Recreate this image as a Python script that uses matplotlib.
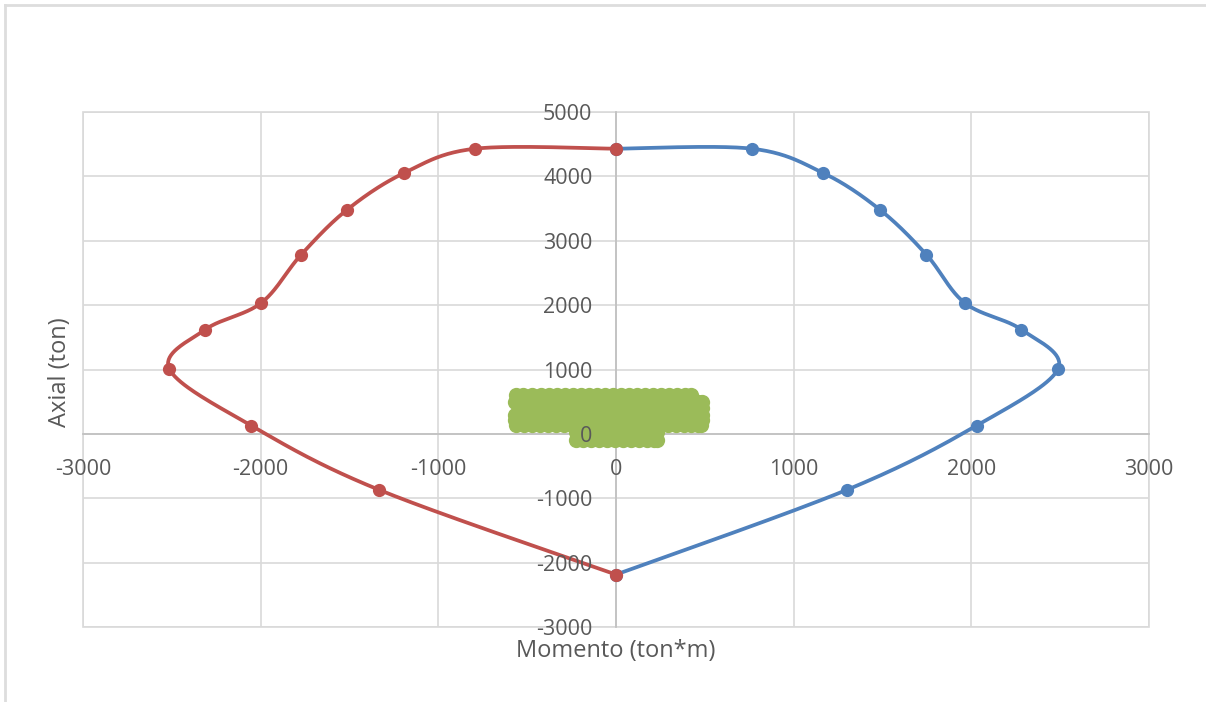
import numpy as np
import matplotlib
matplotlib.use("Agg")
import matplotlib.pyplot as plt
from matplotlib.lines import Line2D
from matplotlib.patches import Rectangle

# ---- data ----
blue_M = [0, 765, 1166, 1485, 1747, 1963, 2282, 2488, 2030, 1299, 0]
blue_P = [4430, 4430, 4053, 3483, 2784, 2034, 1620, 1009, 129, -870, -2185]
red_M = [0, -793, -1192, -1513, -1772, -1997, -2312, -2514, -2053, -1333, 0]
red_P = [4430, 4430, 4053, 3483, 2784, 2034, 1620, 1009, 129, -870, -2185]

green_row_P = [600, 500, 400, 300, 210, 138, 30, -95]
green_row_M = [
    [-565, -525, -470, -420, -375, -330, -285, -240, -195, -150, -105, -60, -15, 30, 75, 120, 165, 210, 255, 300, 345, 390, 420],
    [-570, -525, -480, -435, -390, -345, -300, -255, -210, -165, -120, -75, -30, 15, 60, 105, 150, 195, 240, 285, 330, 375, 420, 460, 486],
    [-535, -490, -445, -400, -355, -310, -265, -220, -175, -130, -85, -40, 5, 50, 95, 140, 185, 230, 275, 320, 365, 410, 450, 486],
    [-570, -525, -480, -435, -390, -345, -300, -255, -210, -165, -120, -75, -30, 15, 60, 105, 150, 195, 240, 285, 330, 375, 420, 460, 486],
    [-570, -525, -480, -435, -390, -345, -300, -255, -210, -165, -120, -75, -30, 15, 60, 105, 150, 195, 240, 285, 330, 375, 420, 460, 486],
    [-565, -520, -475, -430, -385, -340, -295, -250, -205, -160, -115, -70, -25, 20, 65, 110, 155, 200, 245, 290, 335, 380, 420, 460, 480],
    [-227, -185, -140, -95, -50, -5, 40, 85, 130, 175, 215, 233],
    [-227, -185, -140, -95, -50, -5, 40, 85, 130, 175, 215, 233],
]

x_ticks = [-3000, -2000, -1000, 0, 1000, 2000, 3000]
y_ticks = [-3000, -2000, -1000, 0, 1000, 2000, 3000, 4000, 5000]

x_label = "Momento (ton*m)"
y_label = "Axial (ton)"

# ---- style ----
FONT = "Open Sans"
TXT = "#595959"
GRID = "#D9D9D9"
AXLINE = "#BFBFBF"
BLUE = "#4F81BD"
RED = "#C0504D"
GREEN = "#9BBB59"

W, H = 1206, 702
fig = plt.figure(figsize=(W / 100, H / 100), dpi=100)
fig.patch.set_facecolor("white")

pos = [83 / W, 1 - 627 / H, (1149 - 83) / W, (627 - 112) / H]
ax = fig.add_axes(pos)
ax.set_xlim(x_ticks[0], x_ticks[-1])
ax.set_ylim(y_ticks[0], y_ticks[-1])
ax.set_xticks(x_ticks)
ax.set_yticks(y_ticks)
ax.set_axisbelow(True)
ax.grid(True, color=GRID, linewidth=1.2)
ax.tick_params(length=0, labelbottom=False, labelleft=False)
for s in ["top", "right"]:
    ax.spines[s].set_visible(False)
ax.spines["left"].set_position(("data", 0))
ax.spines["bottom"].set_position(("data", 0))
ax.spines["left"].set_color(AXLINE)
ax.spines["bottom"].set_color(AXLINE)
ax.spines["left"].set_linewidth(1.2)
ax.spines["bottom"].set_linewidth(1.2)
ax.add_patch(Rectangle((0, 0), 1, 1, transform=ax.transAxes, fill=False,
                       edgecolor=GRID, linewidth=1.2, clip_on=False, zorder=0.6))


def smooth(ax, xs, ys, n=40):
    pts = ax.transData.transform(np.column_stack([xs, ys]))
    out = []
    t = np.linspace(0, 1, n)[:, None]
    for i in range(len(pts) - 1):
        p0 = pts[i - 1] if i > 0 else pts[i]
        p1 = pts[i]
        p2 = pts[i + 1]
        p3 = pts[i + 2] if i + 2 < len(pts) else pts[i + 1]
        c1 = p1 + (p2 - p0) / 6.0
        c2 = p2 - (p3 - p1) / 6.0
        seg = (1 - t) ** 3 * p1 + 3 * (1 - t) ** 2 * t * c1 + 3 * (1 - t) * t ** 2 * c2 + t ** 3 * p2
        out.append(seg if i == 0 else seg[1:])
    return ax.transData.inverted().transform(np.vstack(out))


# green load points
gM, gP = [], []
for p, ms in zip(green_row_P, green_row_M):
    gM.extend(ms)
    gP.extend([p] * len(ms))
ax.plot(gM, gP, linestyle="none", marker="o", markersize=11, color=GREEN,
        markeredgewidth=0, zorder=3)

for M, P, c, z in [(blue_M, blue_P, BLUE, 4), (red_M, red_P, RED, 5)]:
    sm = smooth(ax, M, P)
    ax.plot(sm[:, 0], sm[:, 1], color=c, linewidth=2.7, zorder=z,
            solid_capstyle="round")
    ax.plot(M, P, linestyle="none", marker="o", markersize=9.5, color=c,
            markeredgewidth=0, zorder=z)

# overlay axes carrying the tick labels on top
ax2 = fig.add_axes(pos, sharex=ax, sharey=ax)
ax2.patch.set_visible(False)
ax2.spines["left"].set_position(("data", 0))
ax2.spines["bottom"].set_position(("data", 0))
for s in ax2.spines.values():
    s.set_visible(False)
ax2.tick_params(axis="x", length=0, pad=18, labelsize=15.5, labelcolor=TXT)
ax2.tick_params(axis="y", length=0, pad=17, labelsize=15.5, labelcolor=TXT)
ax2.set_xticks(x_ticks)
ax2.set_yticks(y_ticks)
ax2.set_xticklabels([str(v) for v in x_ticks], fontfamily=FONT)
ax2.set_yticklabels([str(v) for v in y_ticks], fontfamily=FONT)
ax2.set_zorder(5)

fig.text(616 / W, 1 - 651 / H, x_label, ha="center", va="center",
         fontsize=17, color=TXT, fontfamily=FONT)
fig.text(60 / W, 1 - 372 / H, y_label, ha="center", va="center",
         rotation=90, fontsize=17, color=TXT, fontfamily=FONT)

# outer chart frame (top and left edges visible)
fig.add_artist(Line2D([5 / W, 5 / W], [0, 1 - 5 / H], transform=fig.transFigure,
                      color="#DDDDDD", linewidth=2))
fig.add_artist(Line2D([5 / W, 1], [1 - 5 / H, 1 - 5 / H], transform=fig.transFigure,
                      color="#DDDDDD", linewidth=2))

fig.savefig("out.png", dpi=100)
